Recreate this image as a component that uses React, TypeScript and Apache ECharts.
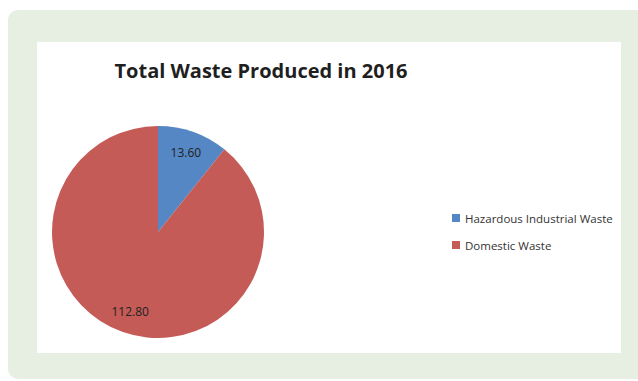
import React, { useEffect, useRef } from "react";
import * as echarts from "echarts";

const titleText = "Total Waste Produced in 2016";
const categories = ["Hazardous Industrial Waste", "Domestic Waste"];
const values = [13.6, 112.8];
const colors = ["#5587C4", "#C55B57"];

export default function App() {
  const ref = useRef<HTMLDivElement>(null);
  useEffect(() => {
    if (!ref.current) return;
    const chart = echarts.init(ref.current, null, { renderer: "svg" });
    const data = categories.map((name, i) => ({ name, value: values[i], itemStyle: { color: colors[i] } }));
    chart.setOption({
      animation: false,
      backgroundColor: "#ffffff",
      graphic: [
        { type: "rect", z: -10, shape: { x: 8, y: 10, width: 640, height: 369, r: 10 }, style: { fill: "#E7EEE2" } },
        { type: "rect", z: -9, shape: { x: 37, y: 42, width: 584, height: 311 }, style: { fill: "#ffffff" } },
      ],
      title: {
        text: titleText,
        left: 256,
        top: 55,
        textAlign: "center",
        textStyle: { fontFamily: "Open Sans", fontWeight: "bold", fontSize: 20, color: "#1f1f1f" },
      },
      legend: {
        orient: "vertical",
        left: 447,
        top: 206,
        icon: "rect",
        itemWidth: 8,
        itemHeight: 8,
        itemGap: 13,
        data: categories,
        textStyle: { fontFamily: "Open Sans", fontSize: 11.5, color: "#333", lineHeight: 14, padding: [0, 0, 0, 0] },
      },
      series: [
        {
          type: "pie",
          center: [158, 232],
          radius: [0, 106],
          startAngle: 90,
          clockwise: true,
          data,
          label: { show: false },
          labelLine: { show: false },
          emphasis: { disabled: true },
        },
        {
          type: "pie",
          center: [158, 232],
          radius: [56, 106],
          startAngle: 90,
          clockwise: true,
          silent: true,
          data: categories.map((name, i) => ({ name, value: values[i] })),
          itemStyle: { color: "rgba(0,0,0,0)" },
          label: {
            show: true,
            position: "inside",
            formatter: (p: any) => Number(p.value).toFixed(2),
            fontFamily: "Open Sans",
            fontSize: 12,
            color: "#222",
          },
          labelLine: { show: false },
          emphasis: { disabled: true },
        },
      ],
    });
    return () => chart.dispose();
  }, []);
  return <div ref={ref} style={{ position: "fixed", left: 0, top: 0, width: 638, height: 381 }} />;
}
